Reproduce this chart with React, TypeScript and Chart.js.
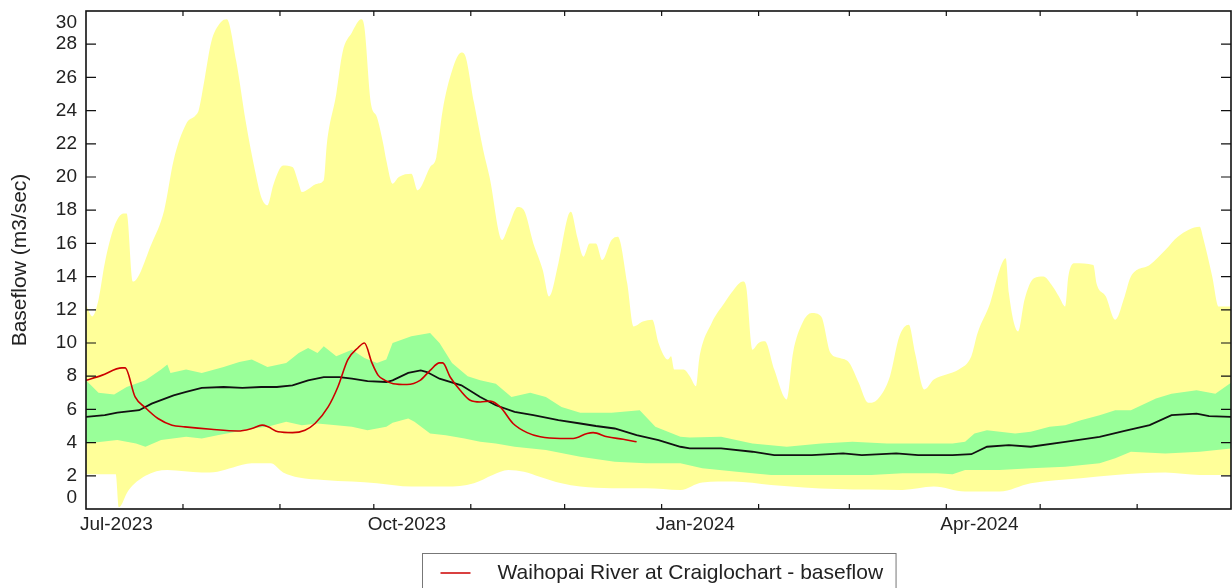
import React, { useEffect, useRef } from 'react';
import { Chart, registerables } from 'chart.js';

Chart.register(...registerables);

const FONT = '"Liberation Sans", Arial, Helvetica, sans-serif';

// x = days since 1 Jul 2023
const monthStartDays = [0, 31, 62, 92, 123, 153, 184, 215, 244, 275, 305, 336, 366];
const monthTickLabels = ['Jul-2023', '', '', 'Oct-2023', '', '', 'Jan-2024', '', '', 'Apr-2024', '', '', ''];
const yTickValues = [0, 2, 4, 6, 8, 10, 12, 14, 16, 18, 20, 22, 24, 26, 28, 30];

const seriesLabel = 'Waihopai River at Craiglochart - baseflow';
const yAxisTitle = 'Baseflow (m3/sec)';

// historic maximum
const maxFlow: [number, number][] = [
  [0, 12.3], [2, 11.6], [4, 12.6], [6, 14.8], [9, 17.0], [12, 17.8], [13, 17.8], [15, 13.7], [21, 16.0],
  [25, 18.0], [28, 21.0], [32, 23.2], [35, 23.7], [36, 24.0], [38, 26.0], [40, 28.1], [43, 29.3], [45, 29.5],
  [48, 27.0], [51, 23.4], [54, 20.4], [56, 18.8], [58, 18.3], [60, 19.6], [63, 20.7], [66, 20.6], [68, 19.6],
  [69, 19.1], [74, 19.6], [76, 19.8], [77, 22.0], [80, 25.0], [82, 27.5], [85, 28.7], [88, 29.5], [89, 29.0],
  [91, 24.5], [93, 23.6], [95, 22.0], [96, 21.0], [98, 19.6], [100, 20.0], [104, 20.2], [106, 19.2], [110, 20.6],
  [112, 21.2], [114, 24.0], [117, 26.4], [120, 27.5], [121, 27.4], [124, 24.5], [127, 21.6], [129, 20.0],
  [133, 16.2], [135, 17.0], [138, 18.2], [140, 18.0], [143, 16.0], [146, 14.4], [148, 12.8], [151, 14.8],
  [154, 17.6], [155, 17.9], [157, 16.4], [159, 15.2], [161, 16.0], [163, 16.0], [165, 15.0], [168, 16.2],
  [170, 16.4], [173, 13.6], [175, 11.0], [178, 11.3], [181, 11.4], [183, 10.0], [186, 9.0], [187, 9.2],
  [188, 8.4], [191, 8.4], [193, 8.0], [195, 7.4], [196, 9.0], [200, 11.2], [204, 12.4], [207, 13.2], [210, 13.7],
  [211, 13.4], [213, 9.6], [215, 10.0], [217, 10.1], [220, 8.4], [224, 6.6], [226, 9.4], [229, 11.2],
  [232, 11.8], [235, 11.6], [238, 9.4], [241, 9.1], [244, 8.8], [247, 7.6], [250, 6.4], [253, 6.6], [257, 8.0],
  [260, 10.4], [263, 11.1], [265, 9.4], [268, 7.2], [271, 7.8], [275, 8.1], [279, 8.4], [283, 9.2], [285, 10.6],
  [289, 12.4], [292, 14.4], [294, 15.1], [295, 13.0], [298, 10.7], [300, 12.6], [303, 13.9], [306, 14.0],
  [309, 13.4], [311, 12.8], [313, 12.2], [314, 14.0], [316, 14.8], [322, 14.7], [323, 13.6], [326, 12.8],
  [329, 11.4], [332, 12.8], [334, 14.0], [340, 14.7], [345, 15.6], [349, 16.4], [356, 17.0], [357, 16.4],
  [360, 14.0], [362, 12.2], [366, 12.2],
];

// historic minimum
const minFlow: [number, number][] = [
  [0, 2.1], [9.5, 2.1], [10.5, 0.1], [13.5, 1.1], [19, 2.0], [26, 2.35], [37, 2.2], [42, 2.25], [47, 2.5],
  [53, 2.75], [59, 2.75], [63, 2.2], [68, 1.9], [76, 1.75], [85, 1.65], [93, 1.55], [104, 1.35], [115, 1.35],
  [124, 1.55], [130, 2.05], [135, 2.35], [140, 2.25], [145, 1.95], [152, 1.55], [158, 1.35], [168, 1.25],
  [179, 1.25], [190, 1.15], [197, 1.6], [207, 1.65], [219, 1.45], [240, 1.2], [261, 1.15], [271, 1.35],
  [281, 1.05], [292, 1.05], [302, 1.55], [318, 1.85], [329, 2.05], [345, 2.2], [356, 2.05], [366, 2.05],
];

// upper percentile band
const upperBand: [number, number][] = [
  [0, 7.75], [4, 7.0], [9, 6.9], [13, 7.35], [19, 7.75], [24, 8.4], [26, 8.7], [27, 8.2], [32, 8.4], [37, 8.2],
  [44, 8.55], [49, 8.85], [53, 9.0], [58, 8.55], [64, 8.8], [68, 9.4], [71, 9.7], [74, 9.4], [76, 9.8], [80, 9.2],
  [85, 9.6], [89, 9.1], [93, 8.8], [96, 9.0], [98, 10.0], [104, 10.4], [110, 10.6], [113, 10.0], [117, 8.8],
  [122, 8.0], [126, 7.75], [131, 7.55], [136, 6.75], [142, 7.0], [147, 6.75], [152, 6.15], [158, 5.8],
  [168, 5.8], [177, 5.95], [182, 4.95], [190, 4.35], [193, 4.3], [203, 4.35], [213, 3.95], [224, 3.75],
  [235, 3.95], [245, 4.05], [256, 3.95], [267, 3.95], [277, 3.95], [281, 4.05], [284, 4.55], [288, 4.75],
  [297, 4.55], [302, 4.65], [308, 4.95], [313, 5.05], [318, 5.35], [324, 5.65], [329, 5.95], [334, 5.95],
  [342, 6.65], [347, 6.95], [355, 7.15], [361, 6.95], [366, 7.6],
];

// lower percentile band
const lowerBand: [number, number][] = [
  [0, 3.95], [5, 4.05], [10, 4.15], [16, 3.95], [19, 3.75], [24, 4.15], [32, 4.35], [37, 4.25], [42, 4.45],
  [48, 4.65], [53, 4.85], [58, 4.95], [64, 5.25], [69, 5.05], [74, 5.15], [80, 5.05], [85, 4.95], [90, 4.75],
  [96, 4.95], [98, 5.2], [103, 5.45], [105, 5.25], [110, 4.55], [115, 4.45], [121, 4.25], [126, 4.05],
  [131, 3.95], [137, 3.75], [147, 3.55], [158, 3.15], [169, 2.85], [179, 2.75], [190, 2.75], [197, 2.45],
  [208, 2.25], [219, 2.05], [229, 2.05], [240, 2.05], [251, 2.05], [261, 2.15], [272, 2.15], [277, 2.1],
  [281, 2.35], [292, 2.35], [302, 2.45], [313, 2.55], [324, 2.75], [329, 3.05], [334, 3.45], [345, 3.35],
  [356, 3.45], [366, 3.65],
];

// median
const medianFlow: [number, number][] = [
  [0, 5.55], [6, 5.65], [10, 5.8], [17, 5.95], [21, 6.35], [28, 6.85], [32, 7.05], [37, 7.3], [44, 7.35],
  [50, 7.3], [56, 7.35], [61, 7.35], [66, 7.45], [71, 7.75], [76, 7.95], [81, 7.95], [85, 7.85], [90, 7.7],
  [96, 7.65], [98, 7.75], [103, 8.2], [107, 8.35], [109, 8.25], [113, 7.85], [120, 7.45], [126, 6.75],
  [131, 6.25], [137, 5.85], [143, 5.65], [151, 5.35], [158, 5.15], [163, 5.0], [169, 4.85], [176, 4.45],
  [183, 4.15], [190, 3.75], [193, 3.65], [203, 3.65], [213, 3.45], [220, 3.25], [232, 3.25], [242, 3.35],
  [248, 3.25], [259, 3.35], [266, 3.25], [277, 3.25], [283, 3.3], [288, 3.75], [295, 3.85], [302, 3.75],
  [313, 4.05], [324, 4.35], [332, 4.7], [340, 5.05], [347, 5.65], [355, 5.75], [359, 5.6], [366, 5.55],
];

// current season
const currentFlow: [number, number][] = [
  [0, 7.75], [5, 8.05], [11.5, 8.5], [12.5, 8.5], [15.7, 6.75], [19, 6.1], [23, 5.45], [27.5, 5.05],
  [31.6, 4.95], [40, 4.8], [48.6, 4.7], [53, 4.85], [56.3, 5.05], [58.2, 4.95], [61.4, 4.65], [66, 4.6],
  [70, 4.75], [73.2, 5.15], [77.4, 6.15], [80.5, 7.35], [83.7, 9.0], [86.9, 9.7], [89, 10.0], [91.4, 8.8],
  [93.4, 8.05], [95.6, 7.75], [98.2, 7.55], [102.6, 7.5], [106.8, 7.75], [110, 8.35], [113, 8.8], [114, 8.8],
  [116.4, 7.95], [119.6, 7.15], [122.8, 6.55], [126, 6.45], [129.2, 6.5], [132.4, 6.15], [136.5, 5.15],
  [141, 4.6], [145.2, 4.35], [151.6, 4.25], [155.7, 4.25], [160.2, 4.55], [162.1, 4.6], [166.6, 4.35],
  [171.7, 4.2], [176, 4.05],
];

const YELLOW = '#ffff99';
const GREEN = '#99ff99';
const RED = '#cc0000';

const pts = (arr: [number, number][]) => arr.map(([x, y]) => ({ x, y }));

const framePlugin = {
  id: 'frame',
  afterDatasetsDraw(chart: any) {
    const { ctx, chartArea: a, scales } = chart;
    ctx.save();
    ctx.strokeStyle = '#111';
    ctx.lineWidth = 1.2;
    ctx.beginPath();
    for (const t of scales.y.ticks) {
      if (t.value <= scales.y.min || t.value >= scales.y.max) continue;
      const y = scales.y.getPixelForValue(t.value);
      ctx.moveTo(a.left, y);
      ctx.lineTo(a.left + 10, y);
      ctx.moveTo(a.right, y);
      ctx.lineTo(a.right - 10, y);
    }
    for (const t of scales.x.ticks) {
      if (t.value <= scales.x.min || t.value >= scales.x.max) continue;
      const x = scales.x.getPixelForValue(t.value);
      ctx.moveTo(x, a.bottom);
      ctx.lineTo(x, a.bottom - 5);
      ctx.moveTo(x, a.top);
      ctx.lineTo(x, a.top + 5);
    }
    ctx.stroke();
    ctx.lineWidth = 1.6;
    ctx.strokeRect(a.left, a.top, a.right - a.left, a.bottom - a.top);
    ctx.restore();
  },
};

const legendPlugin = {
  id: 'boxLegend',
  afterDraw(chart: any) {
    const { ctx, chartArea: a } = chart;
    const ds = chart.data.datasets.find((d: any) => d.inLegend);
    if (!ds) return;
    ctx.save();
    ctx.font = `21px ${FONT}`;
    const textW = ctx.measureText(ds.label).width;
    const totalW = 18 + 30 + 27 + textW + 13;
    const cx = (a.left + a.right) / 2;
    const left = Math.round(cx - totalW / 2) + 0.5;
    const top = a.bottom + 44.5;
    const midY = top + 19.5;
    ctx.strokeStyle = '#777';
    ctx.lineWidth = 1;
    ctx.strokeRect(left, top, totalW, 44);
    ctx.strokeStyle = ds.borderColor;
    ctx.lineWidth = 1.5;
    ctx.beginPath();
    ctx.moveTo(left + 18, midY);
    ctx.lineTo(left + 48, midY);
    ctx.stroke();
    ctx.fillStyle = '#222';
    ctx.textAlign = 'left';
    ctx.textBaseline = 'middle';
    ctx.fillText(ds.label, left + 75, midY);
    ctx.restore();
  },
};

export default function App() {
  const canvasRef = useRef<HTMLCanvasElement | null>(null);

  useEffect(() => {
    if (!canvasRef.current) return;
    const chart = new Chart(canvasRef.current, {
      type: 'line',
      data: {
        datasets: [
          {
            label: 'Maximum',
            data: pts(maxFlow),
            borderWidth: 0,
            borderColor: 'transparent',
            backgroundColor: YELLOW,
            fill: '+1',
            cubicInterpolationMode: 'monotone',
            pointRadius: 0,
            order: 6,
          },
          {
            label: 'Minimum',
            data: pts(minFlow),
            borderWidth: 0,
            borderColor: 'transparent',
            fill: false,
            cubicInterpolationMode: 'monotone',
            pointRadius: 0,
            order: 5,
          },
          {
            label: 'Upper',
            data: pts(upperBand),
            borderWidth: 0,
            borderColor: 'transparent',
            backgroundColor: GREEN,
            fill: '+1',
            pointRadius: 0,
            order: 4,
          },
          {
            label: 'Lower',
            data: pts(lowerBand),
            borderWidth: 0,
            borderColor: 'transparent',
            fill: false,
            pointRadius: 0,
            order: 3,
          },
          {
            label: 'Median',
            data: pts(medianFlow),
            borderWidth: 1.8,
            borderColor: '#111',
            fill: false,
            pointRadius: 0,
            order: 2,
          },
          {
            label: seriesLabel,
            data: pts(currentFlow),
            borderWidth: 1.6,
            borderColor: RED,
            fill: false,
            cubicInterpolationMode: 'monotone',
            pointRadius: 0,
            order: 1,
            inLegend: true,
          } as any,
        ],
      },
      options: {
        responsive: false,
        animation: false,
        devicePixelRatio: 1,
        layout: { padding: { top: 11, right: 1, bottom: 0, left: 0 } },
        plugins: {
          legend: { display: false },
          tooltip: { enabled: false },
        },
        scales: {
          x: {
            type: 'linear',
            min: 0,
            max: 366,
            grid: { display: false, drawTicks: false },
            border: { display: false },
            afterBuildTicks: (s: any) => {
              s.ticks = monthStartDays.map((v) => ({ value: v }));
            },
            afterFit: (s: any) => {
              s.height = 79;
              s.paddingLeft = 0;
              s.paddingRight = 0;
            },
            ticks: {
              autoSkip: false,
              maxRotation: 0,
              minRotation: 0,
              align: 'start',
              labelOffset: -6,
              padding: 4,
              color: '#222',
              font: { family: FONT, size: 19 },
              callback: (_v: any, i: number) => monthTickLabels[i] ?? '',
            },
          },
          y: {
            min: 0,
            max: 30,
            grid: { display: false, drawTicks: false },
            border: { display: false },
            afterBuildTicks: (s: any) => {
              s.ticks = yTickValues.map((v) => ({ value: v }));
            },
            afterFit: (s: any) => {
              s.width = 86;
              s.paddingTop = 0;
              s.paddingBottom = 0;
            },
            ticks: {
              autoSkip: false,
              padding: 9,
              color: '#222',
              font: { family: FONT, size: 19 },
              callback: (v: any) => (v === 30 ? ['', '30'] : v === 0 ? ['0', ''] : String(v)),
            },
            title: {
              display: true,
              text: yAxisTitle,
              color: '#222',
              font: { family: FONT, size: 21 },
              padding: { top: 8, bottom: 0 },
            },
          },
        },
      } as any,
      plugins: [framePlugin, legendPlugin],
    });
    return () => chart.destroy();
  }, []);

  return (
    <div style={{ position: 'fixed', left: 0, top: 0, width: 1232, height: 588, background: '#fff' }}>
      <canvas ref={canvasRef} width={1232} height={588} style={{ display: 'block', width: 1232, height: 588 }} />
    </div>
  );
}
